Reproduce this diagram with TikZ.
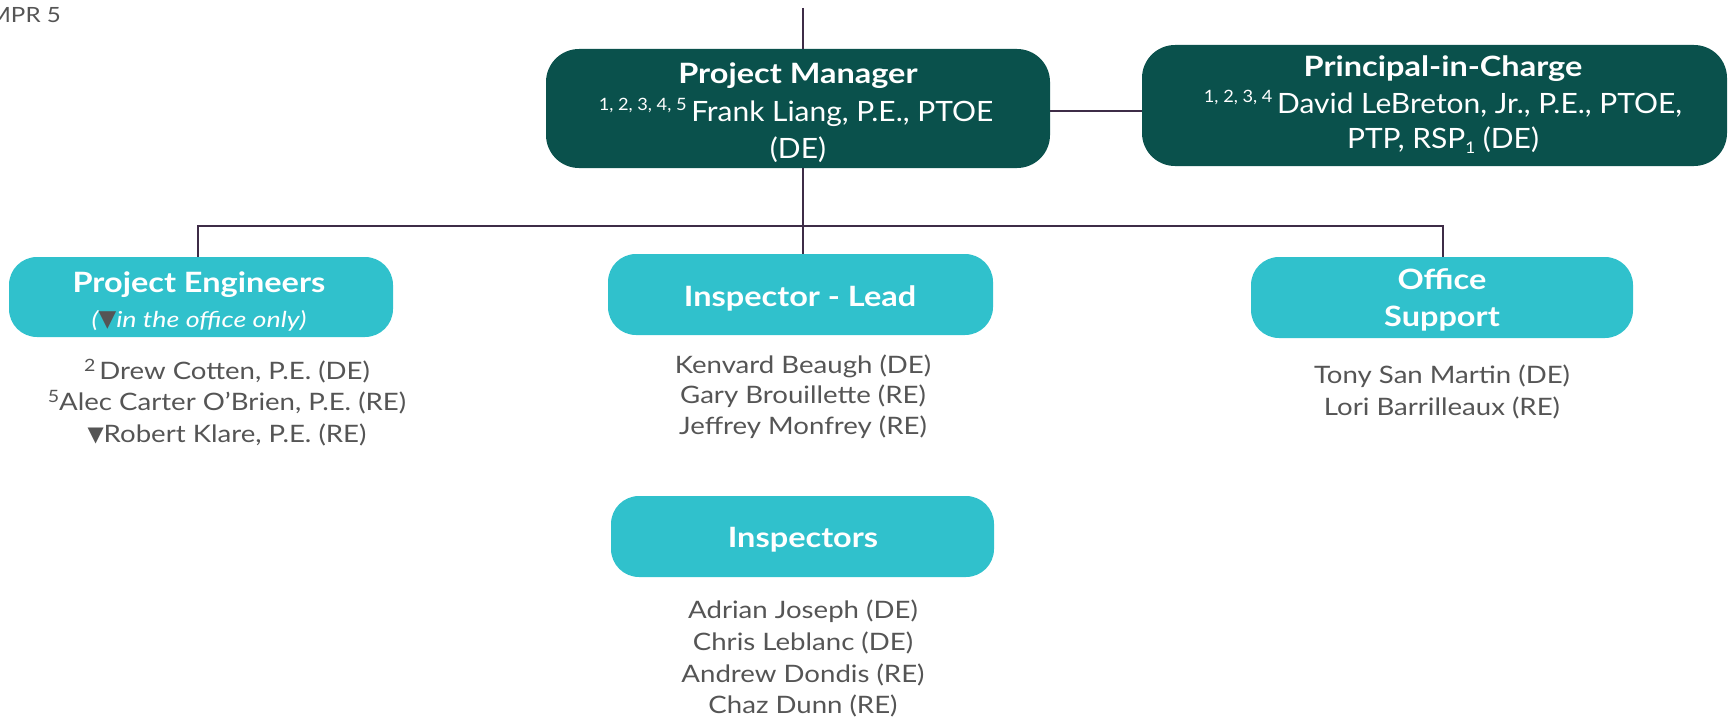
\documentclass[tikz,border=0pt]{standalone}
\usepackage{fontspec}
\setmainfont{Lato}[FakeStretch=1.15]
\newfontfamily\ttlfont{Lato}[FakeStretch=1.16]
\newfontfamily\dnfont{Lato}[FakeStretch=1.07]
\newfontfamily\subfont{Lato}[FakeStretch=1.22]
\newfontfamily\symfont{DejaVu Sans}
\usetikzlibrary{calc}
\definecolor{darkteal}{HTML}{0A514C}
\definecolor{cyanbox}{HTML}{30C1CC}
\definecolor{linecol}{HTML}{3E2C47}
\definecolor{graytext}{HTML}{555555}
\newcommand{\fsz}[1]{\fontsize{#1}{#1}\selectfont}
\newcommand{\sups}[2]{\raisebox{#1pt}{\fsz{17}#2}}
\newcommand{\subs}[1]{\raisebox{-5pt}{\fsz{16}#1}}
\newcommand{\tri}[1]{{\symfont\fsz{#1}\raisebox{1pt}{▼}}}
\begin{document}
\begin{tikzpicture}[x=1pt,y=-1pt,
  darkbox/.style={draw=none,fill=darkteal,rounded corners=33pt,inner sep=0pt},
  cyanbx/.style={draw=none,fill=cyanbox,rounded corners=28pt,inner sep=0pt},
  conn/.style={draw=linecol,line width=2pt},
  ttl/.style={anchor=base,inner sep=0pt,text=white,font=\ttlfont\fsz{28}\bfseries},
  dname/.style={anchor=base,inner sep=0pt,text=white,font=\dnfont\fsz{28}},
  nm/.style={anchor=base,inner sep=0pt,text=graytext,font=\fsz{24}}]
\useasboundingbox (0,0) rectangle (1729,717);
% boxes
\node[darkbox,minimum width=504pt,minimum height=119pt] (pm) at (798,108.5) {};
\node[darkbox,minimum width=585pt,minimum height=121pt] (pic) at (1434.5,105.5) {};
\node[cyanbx,minimum width=384pt,minimum height=80pt] (pe) at (201,297) {};
\node[cyanbx,minimum width=385pt,minimum height=81pt] (lead) at (800.5,294.5) {};
\node[cyanbx,minimum width=382pt,minimum height=81pt] (os) at (1442,297.5) {};
\node[cyanbx,minimum width=383pt,minimum height=81pt] (insp) at (802.5,536.5) {};
% connectors
\coordinate (top) at (803,8);
\coordinate (bus) at (803,226);
\draw[conn] (top) -- (top |- pm.north);
\draw[conn] (pm.south -| bus) -- (lead.north -| bus);
\draw[conn] ($(pm.east)+(0,2.5)$) -- ($(pm.east -| pic.west)+(0,2.5)$);
\draw[conn] ([xshift=-3pt]pe.north) -- ([xshift=-3pt]pe.north |- bus) -- ([xshift=1pt]os.north |- bus) -- ([xshift=1pt]os.north);
% header text
\node[anchor=base east,inner sep=0pt,text=graytext,font=\fsz{21}] (mpr) at (61,23) {MPR 5};
% project manager
\node[ttl] (pmt) at (798,83) {Project Manager};
\node[dname] (pmn) at (796,121) {\sups{10}{1, 2, 3, 4, 5}\,Frank Liang, P.E., PTOE};
\node[dname] (pmd) at (798,158) {(DE)};
% principal
\node[ttl] (pict) at (1443,77) {Principal-in-Charge};
\node[dname] (picn) at (1443,113) {\sups{10}{1, 2, 3, 4}\,David LeBreton, Jr., P.E., PTOE,};
\node[dname] (picd) at (1443,148) {PTP, RSP\subs{1} (DE)};
% project engineers
\node[ttl] (pet) at (199,292) {Project Engineers};
\node[anchor=base,inner sep=0pt,text=white,font=\subfont\fsz{22}\itshape] (pes) at (199,327) {(\textcolor{graytext}{\tri{23}}in the office only)};
\node[nm] (pe1) at (227,379) {\sups{8}{2}\,Drew Cotten, P.E. (DE)};
\node[nm] (pe2) at (227,410) {\sups{8}{5}Alec Carter O’Brien, P.E. (RE)};
\node[nm] (pe3) at (227,442) {\tri{21}Robert Klare, P.E. (RE)};
% inspector lead
\node[ttl] (leadt) at (800,306) {Inspector - Lead};
\node[nm] (ld1) at (803,373) {Kenvard Beaugh (DE)};
\node[nm] (ld2) at (803,403.5) {Gary Brouillette (RE)};
\node[nm] (ld3) at (803,434) {Jeffrey Monfrey (RE)};
% office support
\node[ttl] (ost1) at (1442,289) {Office};
\node[ttl] (ost2) at (1442,326) {Support};
\node[nm] (os1) at (1442,383) {Tony San Martin (DE)};
\node[nm] (os2) at (1442,415) {Lori Barrilleaux (RE)};
% inspectors
\node[ttl] (inspt) at (803,547) {Inspectors};
\node[nm] (in1) at (803,618) {Adrian Joseph (DE)};
\node[nm] (in2) at (803,650) {Chris Leblanc (DE)};
\node[nm] (in3) at (803,682) {Andrew Dondis (RE)};
\node[nm] (in4) at (803,713) {Chaz Dunn (RE)};
\end{tikzpicture}
\end{document}
